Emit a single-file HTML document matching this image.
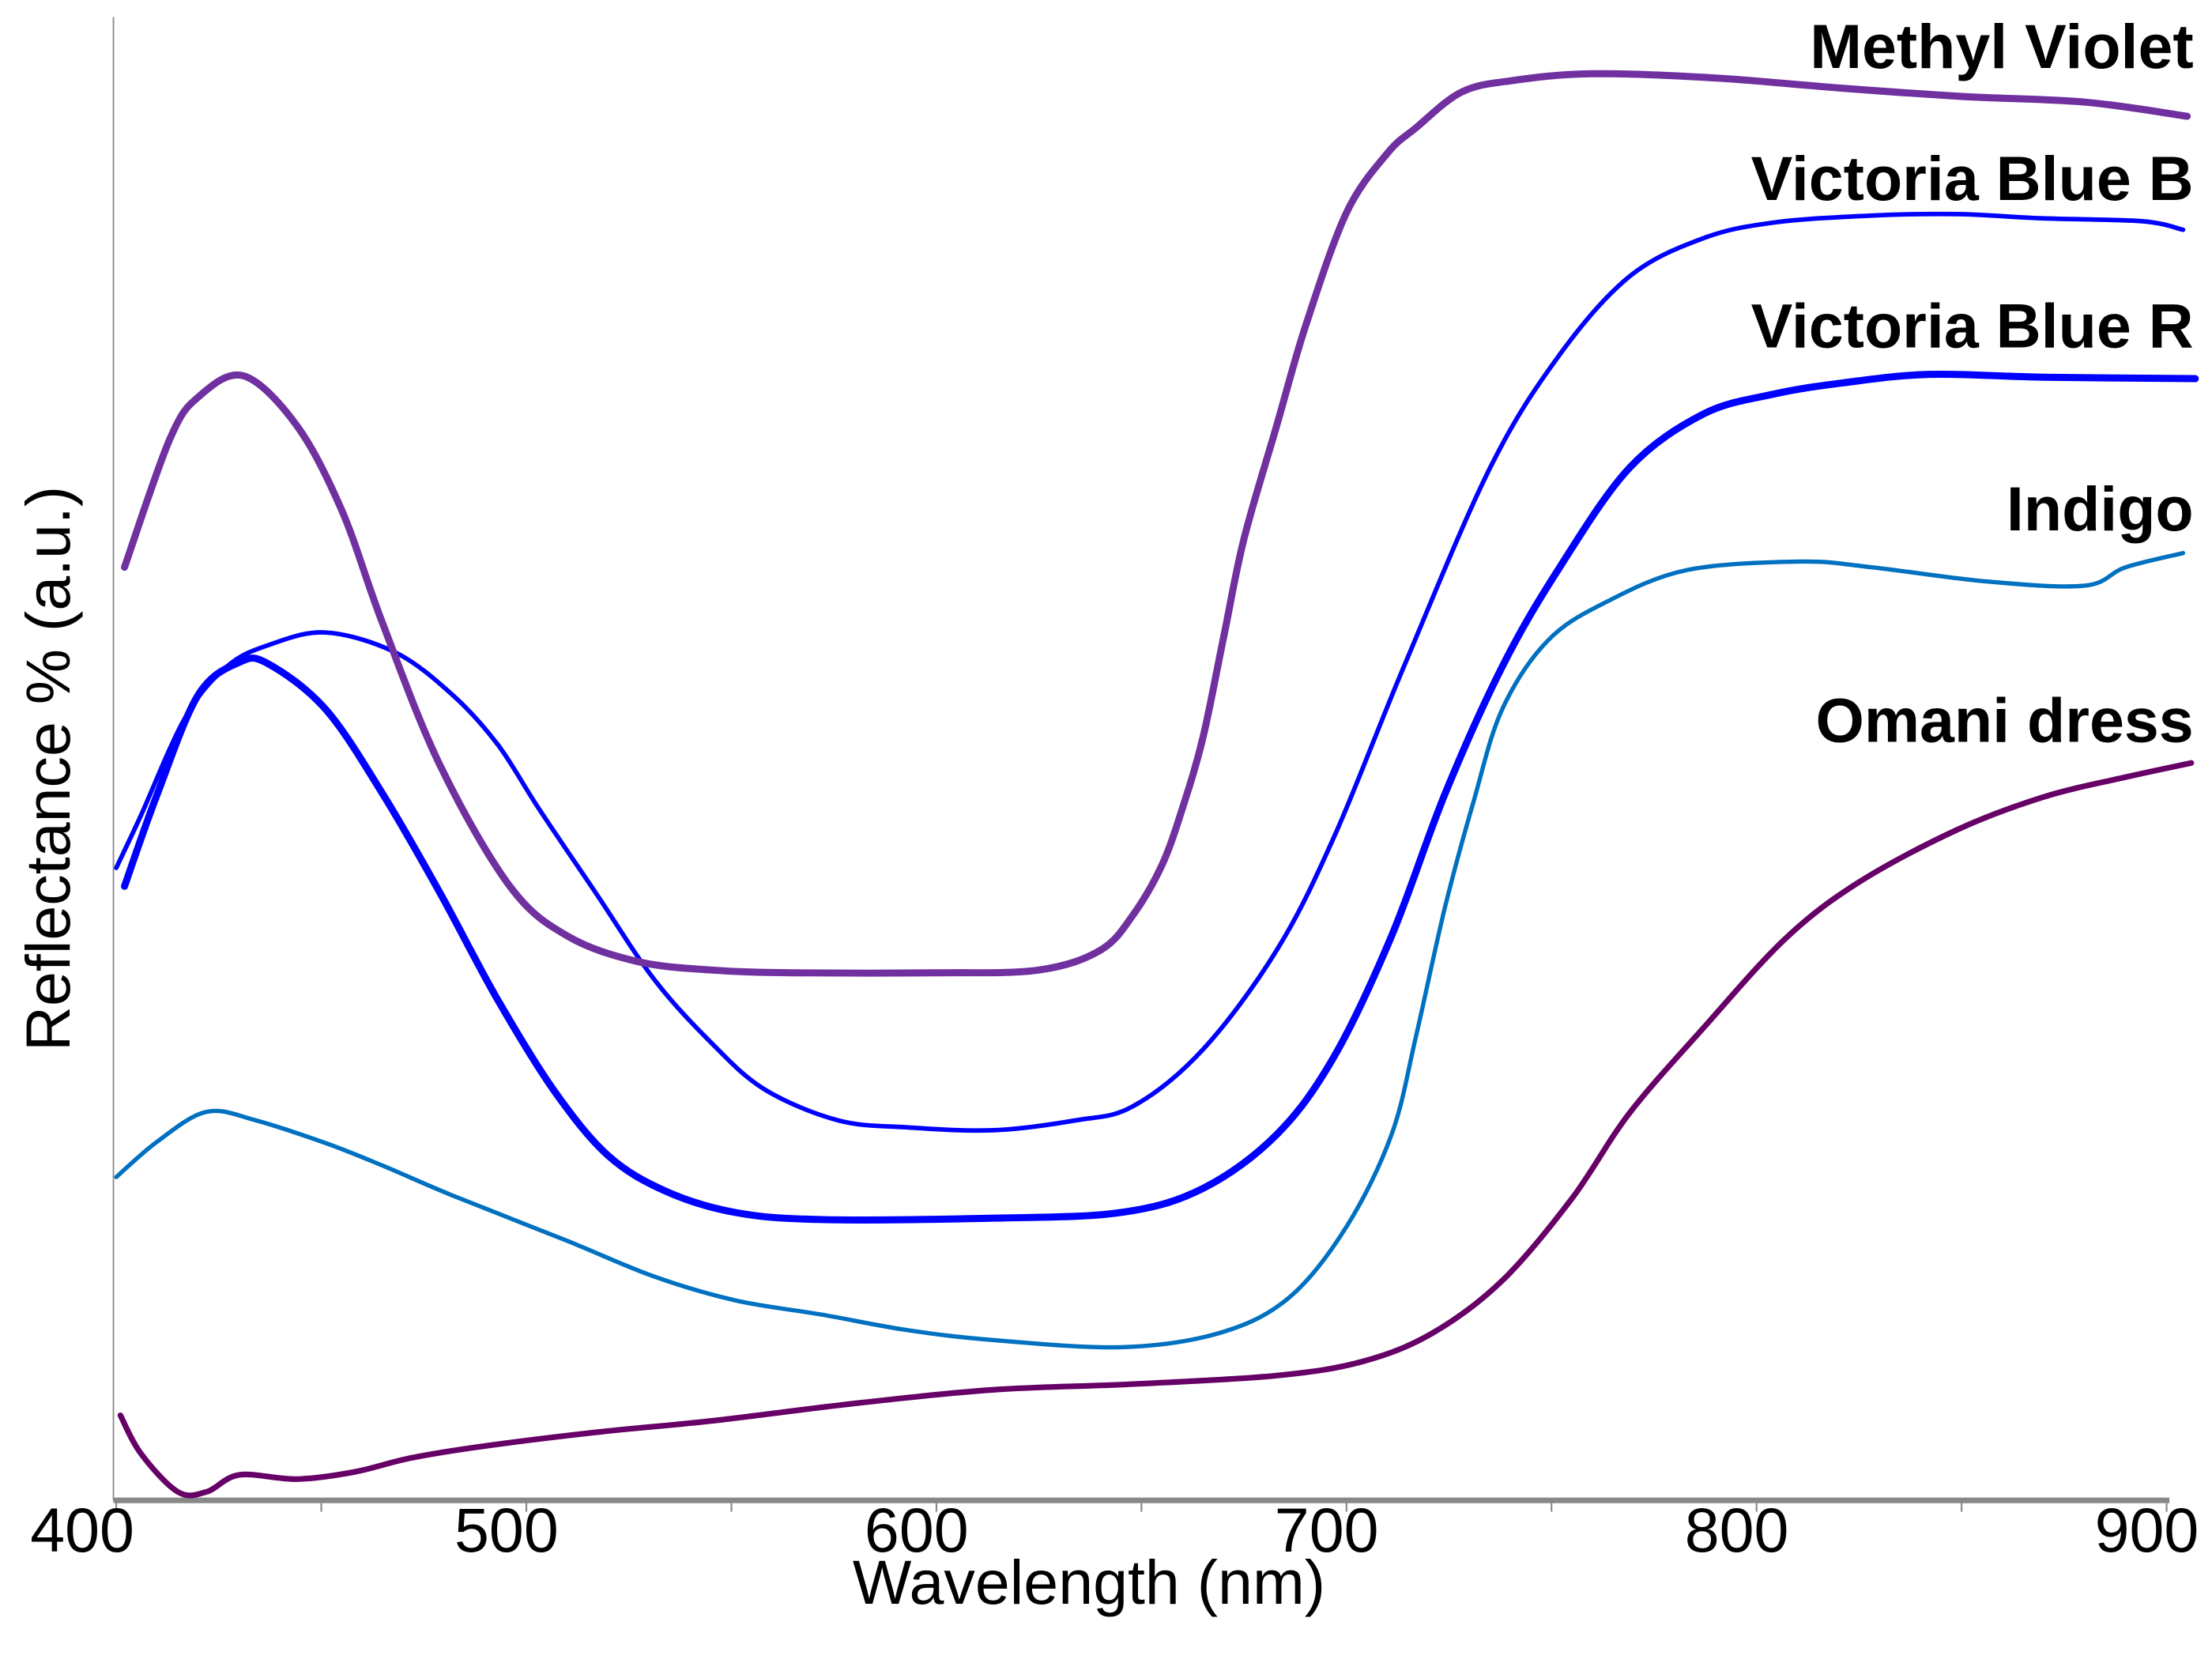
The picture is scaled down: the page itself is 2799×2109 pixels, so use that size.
<!DOCTYPE html>
<html><head><meta charset="utf-8"><style>
html,body{margin:0;padding:0;background:#fff;}
svg{display:block;}
text{font-family:"Liberation Sans",Arial,sans-serif;}
</style></head><body>
<svg id="chart" width="2799" height="2109" viewBox="0 0 1560 1175.5" preserveAspectRatio="none" xmlns="http://www.w3.org/2000/svg">
<g id="axes"></g>
<g id="series"></g>
<g id="labels"></g>
</svg>
<script>
const xTicks = [400,450,500,550,600,650,700,750,800,850,900];
const xTickLabels = ["400","500","600","700","800","900"];
const mvX = [402,413,420,431,444,455,465,479,496,510,527,545,565,600,625,640,648,655,660,665,670,675,683,690,700,710,717,728,740,760,790,820,850,880,905];
const mvY = [658,748,778,793,758,698,618,518,433,398,380,374,372,372,374,388,413,448,488,538,608,678,758,828,908,950,968,993,1001,1006,1003,996,990,986,976];
const vbbX = [400,406,417,427,437,451,468,482,493,503,517,531,545,558,576,593,614,634,648,665,683,697,714,735,752,769,787,804,828,849,870,894,904];
const vbbY = [446,483,553,588,603,612,598,568,533,488,428,368,323,290,268,263,261,268,278,318,388,468,588,728,808,863,890,901,906,907,904,902,896];
const vbrX = [402,410,420,430,437,451,465,479,493,507,520,534,551,572,614,645,665,683,697,711,724,738,752,769,787,804,821,842,870,907];
const vbrY = [433,498,568,591,590,558,498,428,353,288,243,218,203,198,199,203,220,258,313,398,498,588,658,728,766,780,788,794,792,791];
const indX = [400,410,422,434,451,465,482,510,531,551,572,593,614,645,669,686,700,711,717,724,731,738,749,763,783,811,828,856,880,890,904];
const indY = [228,253,274,268,252,236,215,183,158,141,131,120,113,108,118,143,193,258,328,418,493,558,606,633,656,662,658,648,645,658,668];
const omX = [401,406,415,422,430,444,458,472,489,517,545,579,614,648,683,704,721,738,755,769,787,807,825,849,870,890,906];
const omY = [60,33,6,6,18,15,20,30,38,48,56,68,78,82,88,98,118,155,213,273,333,396,436,473,496,510,520];

const NS="http://www.w3.org/2000/svg";
const X0=82, X1=1528, Y0=1058;
function xs(nm){return X0+(nm-400)*(X1-X0)/500;}
function ys(v){return Y0-v;}
function mk(tag,attrs,parent){const e=document.createElementNS(NS,tag);for(const k in attrs)e.setAttribute(k,attrs[k]);parent.appendChild(e);return e;}
const axes=document.getElementById('axes');
let yl=mk('line',{x1:80,y1:12,x2:80,y2:1058,stroke:'#888','stroke-width':1},axes);


let xl=mk('line',{x1:80,y1:1058,x2:1530,y2:1058,stroke:'#888','stroke-width':4},axes);


xTicks.forEach(t=>{
  let tk=mk('line',{x1:xs(t),y1:1058,x2:xs(t),y2:1066,stroke:'#888','stroke-width':1.2},axes);
  
  
});
xTickLabels.forEach(l=>{
  let tx=mk('text',{x:xs(+l)-(l==="400"?24:14),y:1094,'text-anchor':'middle','font-size':44,fill:'#000'},axes);
  tx.textContent=l;
  
  
});
let xt=mk('text',{x:768,y:1131,'text-anchor':'middle','font-size':44,fill:'#000'},axes);
xt.textContent='Wavelength (nm)';


let yt=mk('text',{x:0,y:0,'text-anchor':'middle','font-size':44,fill:'#000',transform:'translate(49,542) rotate(-90)'},axes);
yt.textContent='Reflectance % (a.u.)';



function pathFrom(xa,ya){
  const p=xa.map((x,i)=>[xs(x),ys(ya[i])]);
  let d='M'+p[0][0].toFixed(1)+','+p[0][1].toFixed(1);
  for(let i=0;i<p.length-1;i++){
    const p0=p[Math.max(0,i-1)],p1=p[i],p2=p[i+1],p3=p[Math.min(p.length-1,i+2)];
    const c1x=p1[0]+(p2[0]-p0[0])/6,c1y=p1[1]+(p2[1]-p0[1])/6;
    const c2x=p2[0]-(p3[0]-p1[0])/6,c2y=p2[1]-(p3[1]-p1[1])/6;
    d+=' C'+c1x.toFixed(1)+','+c1y.toFixed(1)+' '+c2x.toFixed(1)+','+c2y.toFixed(1)+' '+p2[0].toFixed(1)+','+p2[1].toFixed(1);
  }
  return d;
}
const sg=document.getElementById('series');
function line(xa,ya,color,w,name){
  let p=mk('path',{d:pathFrom(xa,ya),fill:'none',stroke:color,'stroke-width':w,'stroke-linejoin':'round','stroke-linecap':'round'},sg);
  
  
}
line(omX,omY,'#660066',4,'omani-dress-line');
line(indX,indY,'#0070c0',3,'indigo-line');
line(vbrX,vbrY,'#0000ff',5,'victoria-blue-r-line');
line(vbbX,vbbY,'#0000ff',3.2,'victoria-blue-b-line');
line(mvX,mvY,'#7030a0',5,'methyl-violet-line');

const lg=document.getElementById('labels');
function lab(txt,y,name){
  let t=mk('text',{x:1547,y:y,'text-anchor':'end','font-size':44,'font-weight':'bold',fill:'#000'},lg);
  t.textContent=txt;
  
  
}
lab('Methyl Violet',48,'methyl-violet-label');
lab('Victoria Blue B',141,'victoria-blue-b-label');
lab('Victoria Blue R',245,'victoria-blue-r-label');
lab('Indigo',374,'indigo-label');
lab('Omani dress',523,'omani-dress-label');
</script>
</body></html>
